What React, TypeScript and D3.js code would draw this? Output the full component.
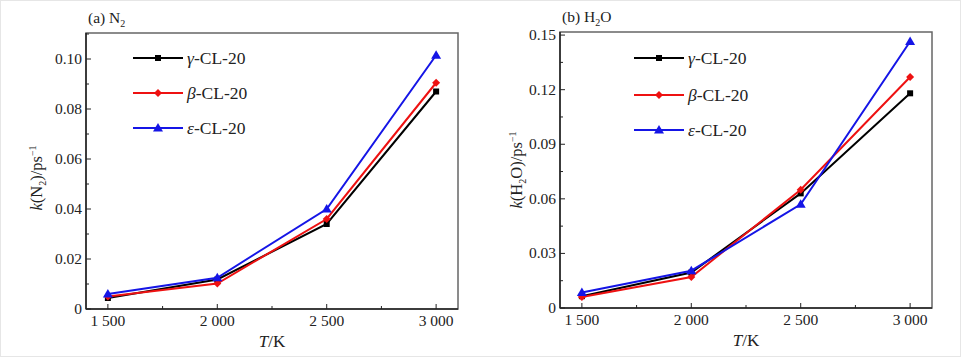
import React from 'react';
import * as d3 from 'd3';

const temps = [1500, 2000, 2500, 3000];
const seriesNames = ['γ', 'β', 'ε'];
const seriesColors = ['#000000', '#ee1111', '#1515e6'];

const n2Gamma = [0.0044, 0.0118, 0.034, 0.087];
const n2Beta = [0.005, 0.0102, 0.036, 0.0905];
const n2Eps = [0.006, 0.0125, 0.040, 0.1015];

const h2oGamma = [0.0065, 0.0195, 0.063, 0.118];
const h2oBeta = [0.006, 0.017, 0.065, 0.127];
const h2oEps = [0.0085, 0.0205, 0.057, 0.1465];

const n2Ticks = [0, 0.02, 0.04, 0.06, 0.08, 0.1];
const h2oTicks = [0, 0.03, 0.06, 0.09, 0.12, 0.15];

const FONT = '"Liberation Serif", "DejaVu Serif", serif';

const fmtT = (v: number) => `${Math.floor(v / 1000)} ${String(v % 1000).padStart(3, '0')}`;

const Marker = ({ kind, x, y, color }: { kind: number; x: number; y: number; color: string }) => {
  if (kind === 0) return <rect x={x - 3} y={y - 3} width={6} height={6} fill={color} />;
  if (kind === 1) return <path d={`M${x},${y - 4}L${x + 4},${y}L${x},${y + 4}L${x - 4},${y}Z`} fill={color} />;
  return <path d={`M${x},${y - 5}L${x + 5},${y + 3.5}L${x - 5},${y + 3.5}Z`} fill={color} />;
};

type PanelProps = {
  left: number;
  right: number;
  top: number;
  bottom: number;
  yMax: number;
  yTicks: number[];
  yFmt: (v: number) => string;
  series: number[][];
  title: React.ReactNode;
  yLabel: React.ReactNode;
  yLabelX: number;
  yLabelY: number;
  legendX: number;
  legendY: number[];
};

const Panel = ({ left, right, top, bottom, yMax, yTicks, yFmt, series, title, yLabel, yLabelX, yLabelY, legendX, legendY }: PanelProps) => {
  const x = d3.scaleLinear().domain([1400, 3100]).range([left, right]);
  const y = d3.scaleLinear().domain([0, yMax]).range([bottom, top]);
  const line = d3
    .line<number>()
    .x((_, i) => x(temps[i]))
    .y(d => y(d));
  const minorX = [1750, 2250, 2750];
  const step = yTicks[1] - yTicks[0];
  const minorY = yTicks.map(t => t + step / 2).filter(t => t < yMax);
  return (
    <g fontFamily={FONT} fill="#222">
      <rect x={left} y={top} width={right - left} height={bottom - top} fill="none" stroke="#666" strokeWidth={1.5} />
      <line x1={left} x2={right} y1={bottom} y2={bottom} stroke="#222" strokeWidth={1.5} />
      <line x1={left} x2={left} y1={top} y2={bottom} stroke="#222" strokeWidth={1.5} />
      {temps.map(t => (
        <g key={t}>
          <line x1={x(t)} x2={x(t)} y1={bottom} y2={bottom - 5} stroke="#222" />
          <text x={x(t)} y={bottom + 17} textAnchor="middle" fontSize={15.5}>
            {fmtT(t)}
          </text>
        </g>
      ))}
      {minorX.map(t => (
        <line key={t} x1={x(t)} x2={x(t)} y1={bottom} y2={bottom - 3} stroke="#222" />
      ))}
      {yTicks.map(t => (
        <g key={t}>
          <line x1={left} x2={left + 5} y1={y(t)} y2={y(t)} stroke="#222" />
          <text x={left - 4} y={y(t) + 5} textAnchor="end" fontSize={15.5}>
            {yFmt(t)}
          </text>
        </g>
      ))}
      {minorY.map(t => (
        <line key={t} x1={left} x2={left + 3} y1={y(t)} y2={y(t)} stroke="#222" />
      ))}
      {series.map((s, k) => (
        <g key={k}>
          <path d={line(s) || ''} fill="none" stroke={seriesColors[k]} strokeWidth={2} />
          {s.map((v, i) => (
            <Marker key={i} kind={k} x={x(temps[i])} y={y(v)} color={seriesColors[k]} />
          ))}
        </g>
      ))}
      {seriesNames.map((n, k) => (
        <g key={n}>
          <line x1={legendX} x2={legendX + 50} y1={legendY[k]} y2={legendY[k]} stroke={seriesColors[k]} strokeWidth={2} />
          <Marker kind={k} x={legendX + 25} y={legendY[k]} color={seriesColors[k]} />
          <text x={legendX + 54} y={legendY[k] + 6} fontSize={17.5}>
            <tspan fontStyle="italic">{n}</tspan>-CL-20
          </text>
        </g>
      ))}
      <text x={left + 2} y={top - 10} fontSize={15.5}>
        {title}
      </text>
      <text transform={`translate(${yLabelX},${yLabelY}) rotate(-90)`} textAnchor="middle" fontSize={16.5}>
        {yLabel}
      </text>
      <text x={(left + right) / 2} y={bottom + 38} textAnchor="middle" fontSize={17}>
        <tspan fontStyle="italic">T</tspan>/K
      </text>
    </g>
  );
};

export default function App() {
  return (
    <svg width={962} height={358} style={{ position: 'absolute', left: 0, top: 0 }}>
      <rect x={0} y={0} width={962} height={358} fill="#fff" />
      <rect x={0.5} y={0.5} width={960} height={356} fill="none" stroke="#e6e6e6" />
      <Panel
        left={86}
        right={458}
        top={33}
        bottom={309}
        yMax={0.1104}
        yTicks={n2Ticks}
        yFmt={v => (v === 0 ? '0' : v.toFixed(2))}
        series={[n2Gamma, n2Beta, n2Eps]}
        title={
          <>
            (a) N<tspan dy={4} fontSize={10}>2</tspan>
          </>
        }
        yLabel={
          <>
            <tspan fontStyle="italic">k</tspan>(N<tspan dy={4} fontSize={10}>2</tspan>
            <tspan dy={-4}>)/ps</tspan>
            <tspan dy={-6} fontSize={10}>−1</tspan>
          </>
        }
        yLabelX={42}
        yLabelY={178}
        legendX={133}
        legendY={[58, 93, 128]}
      />
      <Panel
        left={560}
        right={932}
        top={32}
        bottom={308}
        yMax={0.1517}
        yTicks={h2oTicks}
        yFmt={v => (v === 0 ? '0' : v.toFixed(2))}
        series={[h2oGamma, h2oBeta, h2oEps]}
        title={
          <>
            (b) H<tspan dy={4} fontSize={10}>2</tspan>
            <tspan dy={-4}>O</tspan>
          </>
        }
        yLabel={
          <>
            <tspan fontStyle="italic">k</tspan>(H<tspan dy={4} fontSize={10}>2</tspan>
            <tspan dy={-4}>O)/ps</tspan>
            <tspan dy={-6} fontSize={10}>−1</tspan>
          </>
        }
        yLabelX={522}
        yLabelY={170}
        legendX={634}
        legendY={[58, 95, 130]}
      />
    </svg>
  );
}
